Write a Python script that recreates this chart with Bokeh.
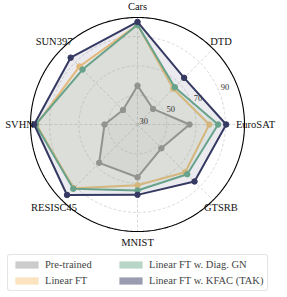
import numpy as np
from bokeh.plotting import figure
from bokeh.models import Range1d, Legend, LegendItem
from bokeh.core.properties import value
from bokeh.embed import file_html
from bokeh.resources import INLINE

# ---------------- data ----------------
categories = ["Cars", "DTD", "EuroSAT", "GTSRB", "MNIST", "RESISC45", "SVHN", "SUN397"]
pretrained = [56.5, 45.0, 65.5, 53.0, 66.0, 67.0, 52.5, 44.0]
linear_ft = [98.0, 64.5, 79.0, 76.0, 71.5, 91.5, 99.0, 86.0]
linear_ft_diag = [98.0, 66.0, 85.0, 78.0, 75.0, 92.0, 99.5, 83.0]
linear_ft_kfac = [100.0, 75.0, 90.5, 85.0, 78.0, 98.0, 100.5, 94.5]
series_names = ["Pre-trained", "Linear FT", "Linear FT w. Diag. GN", "Linear FT w. KFAC (TAK)"]
series_values = [pretrained, linear_ft, linear_ft_diag, linear_ft_kfac]
series_colors = ["#9a9a9a", "#f5c77e", "#6fae8f", "#363a63"]
rticks = [30, 50, 70, 90]

# ---------------- geometry ----------------
R_MIN, R_MAX = 30.0, 103.0
RADIUS_PX = 107.0
K = RADIUS_PX / (R_MAX - R_MIN)
LABEL_R = 118.0
FONT_NAME = "Liberation Serif, Times New Roman, serif"
FONT = value(FONT_NAME)

n = len(categories)
angles = np.pi / 2 - 2 * np.pi * np.arange(n) / n


def to_xy(vals):
    r = (np.asarray(vals, dtype=float) - R_MIN) * K
    return r * np.cos(angles), r * np.sin(angles)


W, H = 287, 297
cx, cy = 137, 124  # chart center (px from left / top)
p = figure(width=W, height=H, output_backend="svg", toolbar_location=None,
           x_range=Range1d(-cx, W - cx), y_range=Range1d(-(H - cy), cy),
           min_border=0, background_fill_color="white", border_fill_color="white")
p.axis.visible = False
p.grid.visible = False
p.outline_line_color = None

# grid circles
t = np.linspace(0, 2 * np.pi, 361)
for v in rticks[1:]:
    rr = (v - R_MIN) * K
    p.line(rr * np.cos(t), rr * np.sin(t), line_color="#cfcfcf", line_width=0.8, line_dash="3 2")
# spokes
p.segment(x0=np.zeros(n), y0=np.zeros(n), x1=RADIUS_PX * np.cos(angles), y1=RADIUS_PX * np.sin(angles),
          line_color="#cfcfcf", line_width=0.8, line_dash="3 2")

# series
for name, vals, col in zip(series_names, series_values, series_colors):
    x, y = to_xy(vals)
    xs = np.append(x, x[0]); ys = np.append(y, y[0])
    p.patch(xs, ys, fill_color=col, fill_alpha=0.1, line_alpha=0)
    p.line(xs, ys, line_color=col, line_width=2)
    p.scatter(x, y, size=5.5, fill_color=col, line_color=col)

# outer circle
p.line(RADIUS_PX * np.cos(t), RADIUS_PX * np.sin(t), line_color="black", line_width=1.1)

# category labels
p.text(x=LABEL_R * np.cos(angles), y=LABEL_R * np.sin(angles), text=categories,
       text_font=FONT, text_font_size="10.5px", text_align="center", text_baseline="middle",
       text_color="#111111")

# radial tick labels
ang_r = np.deg2rad(22.5)
rr = (np.array(rticks, dtype=float) - R_MIN) * K
p.text(x=rr * np.cos(ang_r), y=rr * np.sin(ang_r), text=[str(v) for v in rticks],
       text_font=FONT, text_font_size="8.5px", text_align="left", text_baseline="bottom",
       text_color="#333333", x_offset=2, y_offset=-1)

# legend (proxy swatches: one degenerate, invisible quad per series)
items = []
for name, col in zip(series_names, series_colors):
    r = p.quad(left=[0], right=[0], bottom=[0], top=[0], fill_color=col, fill_alpha=0.5,
               line_alpha=0)
    items.append(LegendItem(label=name, renderers=[r]))
legend = Legend(items=items, ncols=2, location=(7, 6),
                label_text_font=FONT_NAME, label_text_font_size="10.5px",
                glyph_width=29, glyph_height=9, label_height=9, label_width=66, label_standoff=4,
                spacing=5, padding=4, margin=0,
                border_line_color="#cccccc", border_line_width=1,
                background_fill_color="white", background_fill_alpha=1.0)
if "border_radius" in Legend.properties():
    legend.border_radius = 3
p.add_layout(legend)

open("out.html", "w").write(file_html(p, INLINE))
